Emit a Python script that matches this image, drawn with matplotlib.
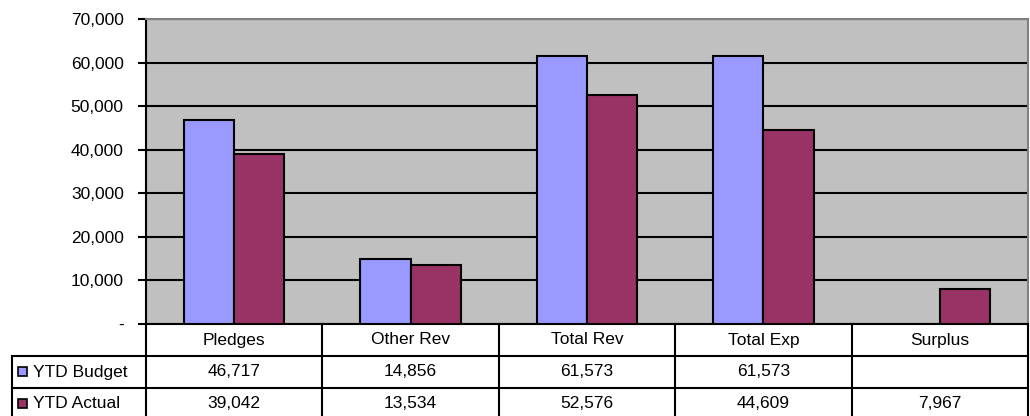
import matplotlib
matplotlib.use("Agg")
import matplotlib.pyplot as plt
import numpy as np
from matplotlib.transforms import blended_transform_factory
from matplotlib.patches import Rectangle

# --- Data --------------------------------------------------------------------
categories = ["Pledges", "Other Rev", "Total Rev", "Total Exp", "Surplus"]
series_names = ["YTD Budget", "YTD Actual"]
ytd_budget = [46717, 14856, 61573, 61573, None]
ytd_actual = [39042, 13534, 52576, 44609, 7967]
yticks = [0, 10000, 20000, 30000, 40000, 50000, 60000, 70000]

# --- Style -------------------------------------------------------------------
BUDGET_C = "#9999FF"
ACTUAL_C = "#993366"
PLOT_BG = "#C0C0C0"
W, H = 1030, 416
FS = 12.5

plt.rcParams["font.family"] = ["Liberation Sans", "DejaVu Sans"]
plt.rcParams["font.size"] = FS

fig = plt.figure(figsize=(W / 100, H / 100), dpi=100)
# plot area in pixels: left 146, right 1028, top 19, bottom 324
ax = fig.add_axes([146 / W, (H - 324) / H, 882 / W, 305 / H])
ax.set_facecolor(PLOT_BG)

x = np.arange(len(categories))
bw = 50 / 176
bud = [np.nan if v is None else v for v in ytd_budget]
ax.bar(x - bw / 2, bud, bw, color=BUDGET_C, edgecolor="black", lw=1.5, zorder=3)
ax.bar(x + bw / 2, ytd_actual, bw, color=ACTUAL_C, edgecolor="black", lw=1.5, zorder=3)

ax.set_xlim(-0.5, len(categories) - 0.5)
ax.set_ylim(0, 70000)
ax.set_yticks(yticks)
ax.set_yticklabels(["-" if t == 0 else f"{t:,}" for t in yticks])
ax.yaxis.grid(True, color="black", lw=1.5, zorder=1)
ax.set_xticks([])
ax.tick_params(axis="y", length=6, width=1.5, pad=10, labelsize=FS)
ax.spines["left"].set_linewidth(1.5)
ax.spines["bottom"].set_linewidth(1.5)
for s in ("top", "right"):
    ax.spines[s].set_color("#808080")
    ax.spines[s].set_linewidth(1.5)

# --- Data table below --------------------------------------------------------
ov = fig.add_axes([0, 0, 1, 1], facecolor="none")
ov.set_xlim(0, W)
ov.set_ylim(H, 0)
ov.axis("off")
tr = blended_transform_factory(ax.transData, ov.transData)

row_y = [324, 356, 388, 420]
lab_left = 12
edges = np.arange(len(categories) + 1) - 0.5
lk = dict(color="black", lw=1.5, solid_capstyle="projecting")

for y in row_y[1:]:
    ov.plot([edges[0], edges[-1]], [y, y], transform=tr, **lk)
    ov.plot([lab_left, 146], [y, y], **lk)
for e in edges:
    ov.plot([e, e], [row_y[0], row_y[-1]], transform=tr, **lk)
ov.plot([lab_left, lab_left], [row_y[1], row_y[-1]], **lk)

for i, c in enumerate(categories):
    ov.text(i, (row_y[0] + row_y[1]) / 2, c, transform=tr,
            ha="center", va="center", fontsize=FS)

rows = [(series_names[0], ytd_budget, BUDGET_C), (series_names[1], ytd_actual, ACTUAL_C)]
for r, (name, vals, col) in enumerate(rows):
    yc = (row_y[r + 1] + row_y[r + 2]) / 2
    ov.add_patch(Rectangle((18, yc - 5), 9, 9, facecolor=col, edgecolor="black", lw=1.2))
    ov.text(33, yc, name, ha="left", va="center", fontsize=FS)
    for i, v in enumerate(vals):
        if v is not None:
            ov.text(i, yc, f"{v:,}", transform=tr, ha="center", va="center", fontsize=FS)

fig.savefig("out.png", dpi=100)
